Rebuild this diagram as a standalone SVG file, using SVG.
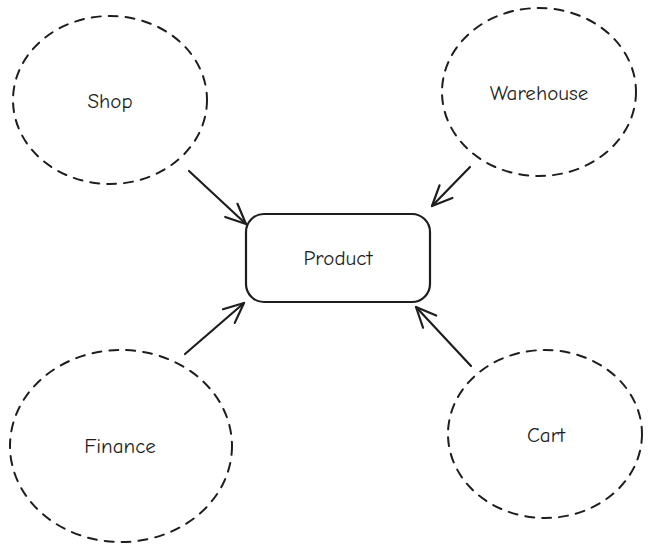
<svg xmlns="http://www.w3.org/2000/svg" width="653" height="552" viewBox="0 0 653 552">
<style>
.bg{fill:#ffffff}
.node ellipse{fill:none;stroke:#1e1e1e;stroke-width:2;stroke-dasharray:9 8;stroke-linecap:round}
.node rect{fill:none;stroke:#1e1e1e;stroke-width:2.2}
.node text{font-family:"Comic Neue","Open Sans","Liberation Sans",sans-serif;font-size:21px;fill:#1e1e1e;text-anchor:middle;dominant-baseline:central}
.edge{stroke:#1e1e1e;stroke-width:2.2;fill:none;stroke-linecap:round;marker-end:url(#arr)}
</style>
<defs>
<marker id="arr" markerUnits="userSpaceOnUse" viewBox="-24 -12 28 24" refX="0" refY="0" markerWidth="28" markerHeight="24" orient="auto">
<path d="M -20 -9 L 0 0 L -20 9" fill="none" stroke="#1e1e1e" stroke-width="2.2" stroke-linecap="round" stroke-linejoin="round"/>
</marker>
</defs>
<rect class="bg" x="0" y="0" width="653" height="552"/>
<g id="connectors">
<line class="edge" x1="189" y1="171" x2="246" y2="224"/>
<line class="edge" x1="470" y1="167" x2="432" y2="206"/>
<line class="edge" x1="185" y1="354" x2="244" y2="303"/>
<line class="edge" x1="471" y1="366" x2="416" y2="307"/>
</g>
<g id="shop" class="node">
<ellipse cx="110" cy="100" rx="97" ry="84"/>
<text x="110" y="101">Shop</text>
</g>
<g id="warehouse" class="node">
<ellipse cx="539" cy="92" rx="97" ry="84"/>
<text x="539" y="93">Warehouse</text>
</g>
<g id="product" class="node">
<rect x="246" y="214" width="184" height="88" rx="18"/>
<text x="338" y="258">Product</text>
</g>
<g id="finance" class="node">
<ellipse cx="121" cy="446" rx="111" ry="96"/>
<text x="120" y="446">Finance</text>
</g>
<g id="cart" class="node">
<ellipse cx="545" cy="434" rx="97" ry="84"/>
<text x="546" y="435">Cart</text>
</g>
</svg>
